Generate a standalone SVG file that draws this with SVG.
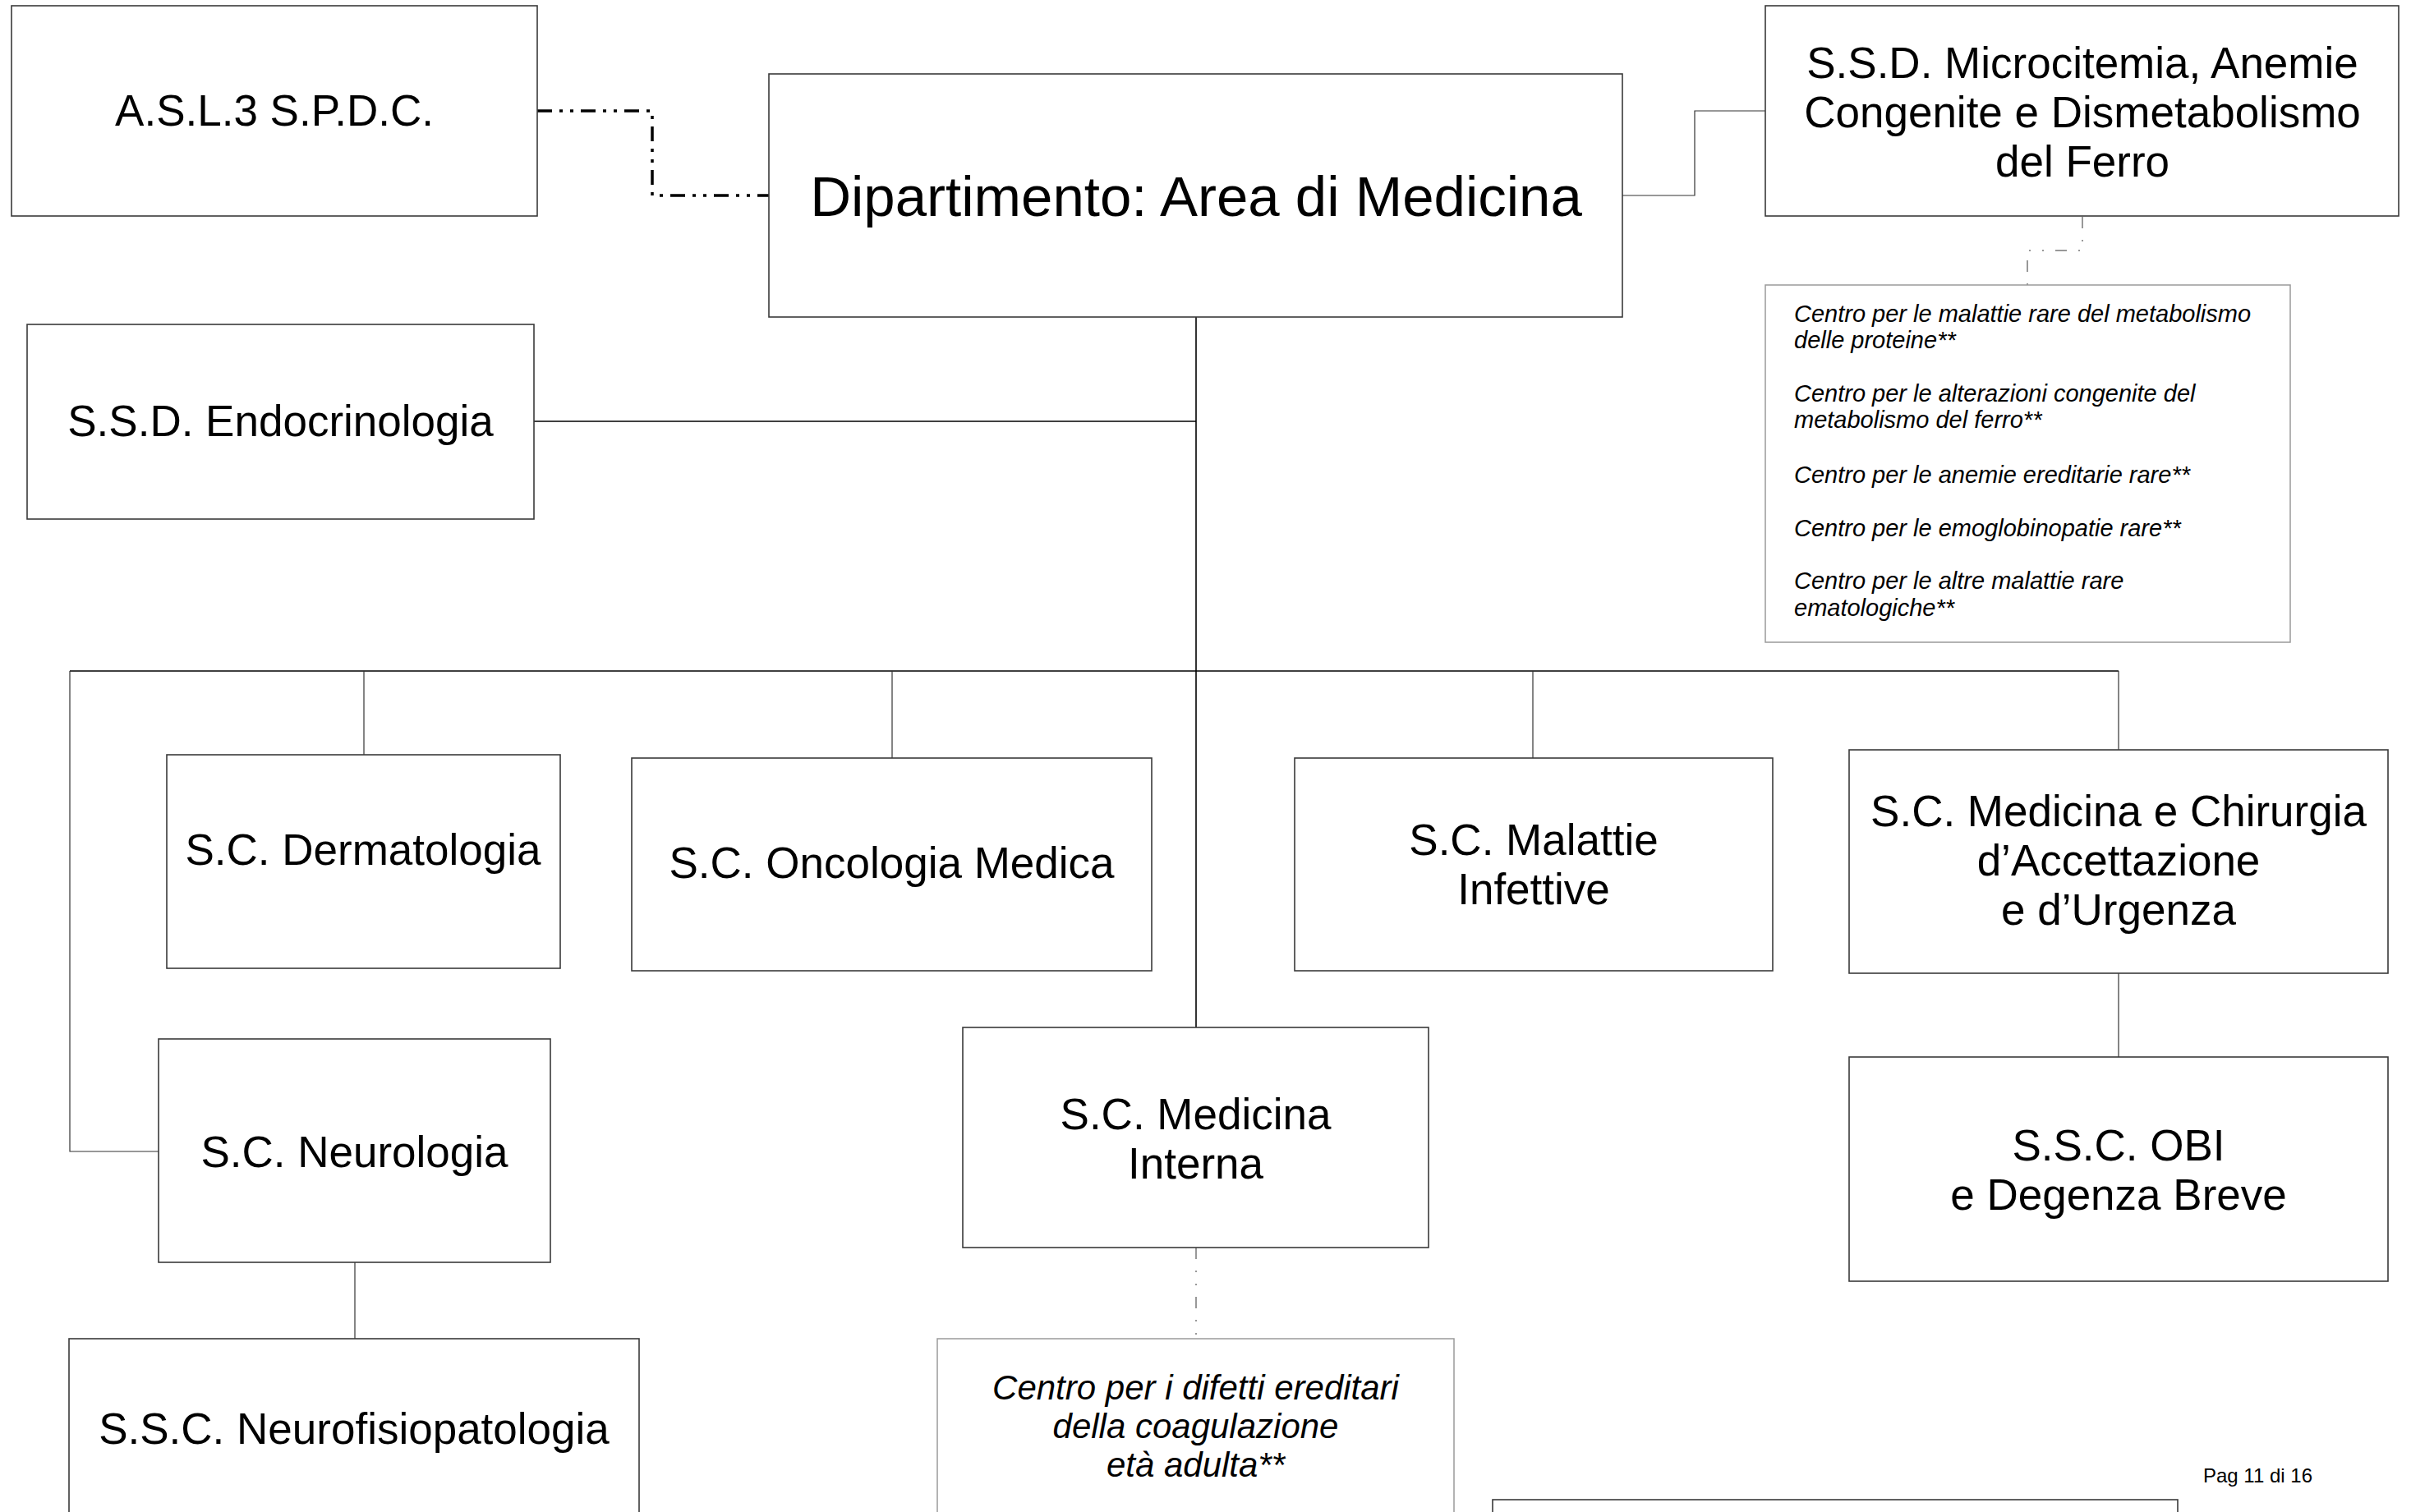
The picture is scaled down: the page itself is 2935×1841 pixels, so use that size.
<svg xmlns="http://www.w3.org/2000/svg" width="2935" height="1841" viewBox="0 0 2935 1841">
<style>
.box{fill:#fff;stroke:#3a3a3a;stroke-width:1.6}
.lbox{fill:#fff;stroke:#9a9a9a;stroke-width:1.5}
.t{font-family:"Liberation Sans",Arial,sans-serif;font-size:53px;fill:#000;text-anchor:middle}
.big{font-size:69px}
.it{font-family:"Liberation Sans",Arial,sans-serif;font-style:italic;fill:#000}
.ln{fill:none;stroke:#000;stroke-width:1.6}
.thin{fill:none;stroke:#333;stroke-width:1.2}
.dd{fill:none;stroke:#000;stroke-width:3.5;stroke-dasharray:18 9 4 9 4 9}
.ld{fill:none;stroke:#777;stroke-width:1.5;stroke-dasharray:14 14 2 14 2 14}
</style>
<rect width="2935" height="1841" fill="#fff"/>
<g id="connectors">
<path class="dd" d="M654,135 H794 V238 H936"/>
<path class="thin" d="M1975,238 H2063 V135 H2149" stroke="#555"/>
<path class="ld" d="M2535,264 V305 H2468 V347"/>
<path class="ln" d="M1456,386 V1251"/>
<path class="ln" d="M650,513 H1456"/>
<path class="ln" d="M85,817 H2579"/>
<path class="thin" d="M443,817 V919"/>
<path class="thin" d="M1086,817 V923"/>
<path class="thin" d="M1866,817 V923"/>
<path class="thin" d="M2579,817 V913"/>
<path class="thin" d="M85,817 V1402 H193"/>
<path class="thin" d="M432,1537 V1630"/>
<path class="thin" d="M2579,1185 V1287"/>
<path class="ld" d="M1456,1519 V1630"/>
</g>
<g id="asl">
<rect class="box" x="14" y="7" width="640" height="256"/>
<text class="t" x="334" y="153">A.S.L.3 S.P.D.C.</text>
</g>
<g id="dipartimento">
<rect class="box" x="936" y="90" width="1039" height="296"/>
<text class="t big" x="1456" y="263">Dipartimento: Area di Medicina</text>
</g>
<g id="microcitemia">
<rect class="box" x="2149" y="7" width="771" height="256"/>
<text class="t" x="2535" y="95">S.S.D. Microcitemia, Anemie</text>
<text class="t" x="2535" y="155">Congenite e Dismetabolismo</text>
<text class="t" x="2535" y="215">del Ferro</text>
</g>
<g id="malattie-rare">
<rect class="lbox" x="2149" y="347" width="639" height="435"/>
<g class="it" font-size="29">
<text x="2184" y="392">Centro per le malattie rare del metabolismo</text>
<text x="2184" y="424">delle proteine**</text>
<text x="2184" y="489">Centro per le alterazioni congenite del</text>
<text x="2184" y="521">metabolismo del ferro**</text>
<text x="2184" y="588">Centro per le anemie ereditarie rare**</text>
<text x="2184" y="653">Centro per le emoglobinopatie rare**</text>
<text x="2184" y="717">Centro per le altre malattie rare</text>
<text x="2184" y="750">ematologiche**</text>
</g>
</g>
<g id="endocrinologia">
<rect class="box" x="33" y="395" width="617" height="237"/>
<text class="t" x="341.5" y="531">S.S.D. Endocrinologia</text>
</g>
<g id="dermatologia">
<rect class="box" x="203" y="919" width="479" height="260"/>
<text class="t" x="442" y="1053">S.C. Dermatologia</text>
</g>
<g id="oncologia">
<rect class="box" x="769" y="923" width="633" height="259"/>
<text class="t" x="1085.5" y="1069">S.C. Oncologia Medica</text>
</g>
<g id="malattie-infettive">
<rect class="box" x="1576" y="923" width="582" height="259"/>
<text class="t" x="1867" y="1041">S.C. Malattie</text>
<text class="t" x="1867" y="1101">Infettive</text>
</g>
<g id="medicina-chirurgia">
<rect class="box" x="2251" y="913" width="656" height="272"/>
<text class="t" x="2579" y="1006">S.C. Medicina e Chirurgia</text>
<text class="t" x="2579" y="1066">d’Accettazione</text>
<text class="t" x="2579" y="1126">e d’Urgenza</text>
</g>
<g id="neurologia">
<rect class="box" x="193" y="1265" width="477" height="272"/>
<text class="t" x="431.5" y="1421">S.C. Neurologia</text>
</g>
<g id="medicina-interna">
<rect class="box" x="1172" y="1251" width="567" height="268"/>
<text class="t" x="1455.5" y="1375">S.C. Medicina</text>
<text class="t" x="1455.5" y="1435">Interna</text>
</g>
<g id="obi">
<rect class="box" x="2251" y="1287" width="656" height="273"/>
<text class="t" x="2579" y="1413">S.S.C. OBI</text>
<text class="t" x="2579" y="1473">e Degenza Breve</text>
</g>
<g id="neurofisiopatologia">
<rect class="box" x="84" y="1630" width="694" height="260"/>
<text class="t" x="431" y="1758">S.S.C. Neurofisiopatologia</text>
</g>
<g id="centro-coagulazione">
<rect class="lbox" x="1141" y="1630" width="629" height="260"/>
<g class="it" font-size="42" text-anchor="middle">
<text x="1455.5" y="1704">Centro per i difetti ereditari</text>
<text x="1455.5" y="1751">della coagulazione</text>
<text x="1455.5" y="1798">età adulta**</text>
</g>
</g>
<g id="bottom-box">
<rect class="box" x="1817" y="1826" width="834" height="60"/>
</g>
<text x="2682" y="1805" font-family="Liberation Sans, Arial, sans-serif" font-size="24" fill="#000">Pag 11 di 16</text>
</svg>
